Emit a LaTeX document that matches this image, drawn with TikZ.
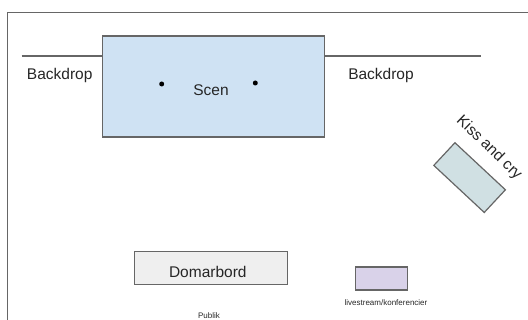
\documentclass[tikz,border=0pt]{standalone}
\usepackage{fontspec}
\setmainfont{Liberation Sans}
\definecolor{scenblue}{HTML}{CFE2F3}
\definecolor{kissgreen}{HTML}{D0E0E3}
\definecolor{tablegray}{HTML}{EFEFEF}
\definecolor{streampurple}{HTML}{D9D2E9}
\definecolor{edgegray}{HTML}{666666}
\definecolor{textgray}{HTML}{262626}

\begin{document}
\begin{tikzpicture}[x=1pt, y=-1pt]
        % styles
        \tikzstyle{area}=[draw=edgegray, line width=1.2pt, inner sep=0pt]
        \tikzstyle{big}=[text=textgray, font=\fontsize{15.5}{18}\selectfont]
        \tikzstyle{small}=[text=textgray, font=\fontsize{8}{9}\selectfont]
        \tikzstyle{spot}=[circle, fill=black, inner sep=0pt, minimum size=5pt]

        \useasboundingbox (0,0) rectangle (528,320);
        \clip (0,0) rectangle (528,320);

        % frame
        \draw[edgegray, line width=1.3pt] (7.3,340) -- (7.3,12.3) -- (540,12.3);

        % stage
        \node[area, fill=scenblue, minimum width=222pt, minimum height=101pt] (scen) at (213.7,86.5) {};
        \node[big] (scentext) at (211,90) {Scen};
        \node[spot] (spotl) at (161.7,84) {};
        \node[spot] (spotr) at (255.3,83) {};

        % backdrops
        \coordinate (bdl) at (21.7,56);
        \coordinate (bdr) at (481,56);
        \draw[edgegray, line width=1.3pt] (bdl) -- (scen.west |- bdl);
        \draw[edgegray, line width=1.3pt] (scen.east |- bdr) -- (bdr);
        \node[big, anchor=base] (bdltext) at (59.7,80) {Backdrop};
        \node[big, anchor=base] (bdrtext) at (381,80) {Backdrop};

        % kiss and cry
        \node[area, fill=kissgreen, minimum width=69pt, minimum height=31pt, rotate=-43] (kiss) at (469.6,177.6) {};
        \node[big, rotate=-44] (kisstext) at (489,148) {Kiss and cry};

        % judges and stream
        \node[area, fill=tablegray, minimum width=153pt, minimum height=33pt] (domarbord) at (210.7,267.7) {};
        \node[big, anchor=base] (domartext) at (207.8,277.5) {Domarbord};
        \node[area, fill=streampurple, minimum width=52pt, minimum height=23pt] (live) at (381.7,278.5) {};
        \node[small, anchor=base] (livetext) at (386,306) {livestream/konferencier};
        \node[small, anchor=base] (publik) at (209,318.3) {Publik};
    \end{tikzpicture}
\end{document}
